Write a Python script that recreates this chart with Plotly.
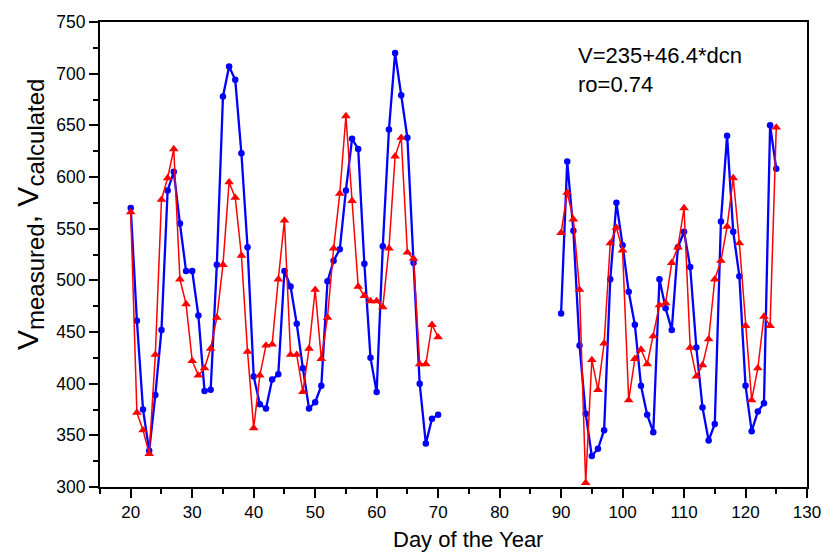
import plotly.graph_objects as go

days_a = list(range(20, 71))
days_b = list(range(90, 126))

measured_a = [570, 461, 375, 335, 389, 452, 587, 605, 555, 509, 509, 466, 393, 394, 515,
              678, 707, 694, 623, 532, 407, 380, 376, 404, 409, 509, 494, 458, 415, 376,
              382, 398, 499, 519, 530, 587, 637, 627, 516, 425, 392, 533, 646, 720, 679,
              638, 517, 400, 342, 366, 370]
calculated_a = [566, 372, 355, 332, 428, 578, 599, 627, 501, 477, 422, 408, 415, 434, 464,
                515, 595, 580, 524, 431, 357, 408, 437, 438, 501, 558, 428, 428, 392, 434,
                491, 424, 464, 531, 584, 659, 577, 494, 485, 480, 480, 474, 531, 620, 638,
                527, 521, 419, 419, 457, 445]

measured_b = [468, 615, 548, 437, 371, 330, 337, 355, 501, 575, 534, 489, 457, 398, 370,
              353, 501, 473, 452, 532, 547, 513, 435, 377, 345, 361, 557, 640, 547, 504,
              398, 354, 373, 381, 650, 608]
calculated_b = [546, 585, 559, 491, 304, 423, 394, 439, 536, 551, 529, 384, 424, 433, 419,
                446, 476, 478, 517, 532, 570, 435, 407, 418, 443, 501, 519, 552, 599, 536,
                456, 384, 415, 465, 456, 648]

x_all = days_a + [None] + days_b
meas_all = measured_a + [None] + measured_b
calc_all = calculated_a + [None] + calculated_b

FONT = "Liberation Sans, Arial, sans-serif"

fig = go.Figure()
fig.add_trace(go.Scatter(
    x=x_all, y=meas_all, mode="lines+markers", name="measured",
    line=dict(color="#0000ff", width=2.3),
    marker=dict(symbol="circle", size=6.5, color="#0000ff"),
    connectgaps=False))
fig.add_trace(go.Scatter(
    x=x_all, y=calc_all, mode="lines+markers", name="calculated",
    line=dict(color="#ff0000", width=1.5),
    marker=dict(symbol="triangle-up", size=8.5, color="#ff0000"),
    connectgaps=False))

fig.add_annotation(x=92.4, y=718, xref="x", yref="y", text="V=235+46.4*dcn",
                   showarrow=False, xanchor="left", yanchor="middle",
                   font=dict(family=FONT, size=22, color="black"))
fig.add_annotation(x=92.4, y=690, xref="x", yref="y", text="ro=0.74",
                   showarrow=False, xanchor="left", yanchor="middle",
                   font=dict(family=FONT, size=22, color="black"))

# axis titles as annotations
fig.add_annotation(x=0.52, y=-0.112, xref="paper", yref="paper", text="Day of the Year",
                   showarrow=False, xanchor="center", yanchor="middle",
                   font=dict(family=FONT, size=22, color="black"))
fig.add_annotation(
    x=-0.099, y=0.587, xref="paper", yref="paper", textangle=-90,
    text='V<sub><span style="font-size:24px">measured</span></sub>, '
         'V<sub><span style="font-size:24px">calculated</span></sub>',
    showarrow=False, xanchor="center", yanchor="middle",
    font=dict(family=FONT, size=30, color="black"))

axis_common = dict(
    showline=True, linecolor="black", linewidth=2, mirror=True,
    ticks="outside", tickcolor="black", tickwidth=2, ticklen=9,
    showgrid=False, zeroline=False,
)

fig.update_xaxes(range=[15, 130], dtick=10, tick0=0,
                 tickfont=dict(family=FONT, size=17, color="black"),
                 minor=dict(dtick=5, tick0=0, ticks="outside", ticklen=5,
                            tickwidth=1.5, tickcolor="black", showgrid=False),
                 **axis_common)
fig.update_yaxes(range=[300, 750], dtick=50, tick0=0,
                 tickfont=dict(family=FONT, size=17.5, color="black"),
                 minor=dict(dtick=25, tick0=0, ticks="outside", ticklen=5,
                            tickwidth=1.5, tickcolor="black", showgrid=False),
                 **axis_common)

fig.update_layout(
    width=833, height=552,
    margin=dict(l=100, r=16, t=15, b=65),
    plot_bgcolor="white", paper_bgcolor="white",
    showlegend=False,
)

fig.write_html("out.html", config={"displayModeBar": False},
               post_script="document.body.style.margin='0px';")
